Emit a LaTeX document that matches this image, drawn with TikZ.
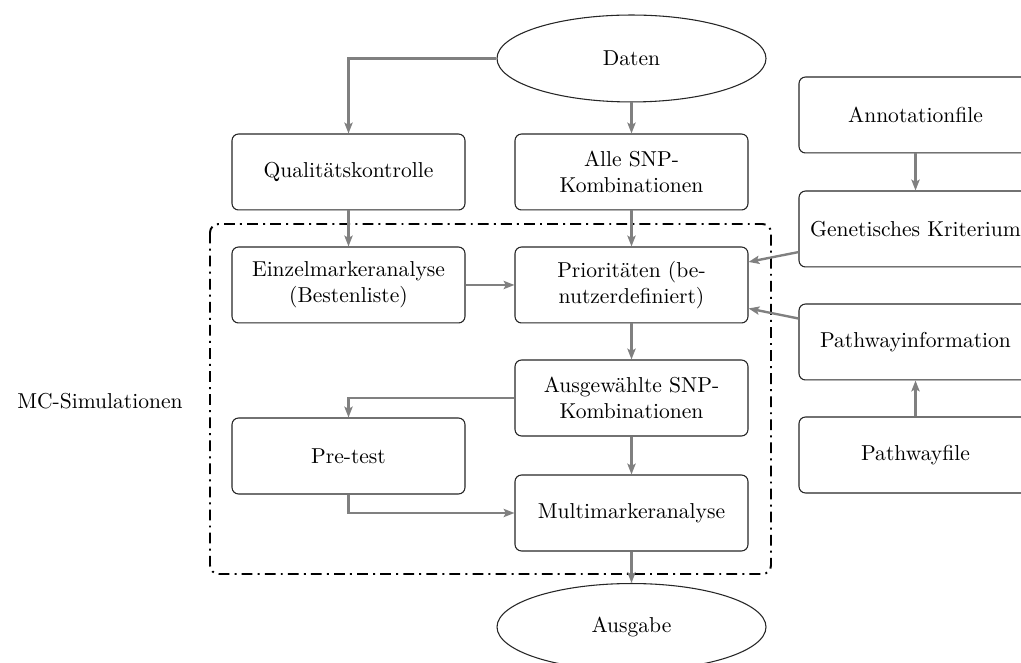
\documentclass[tikz,border=0pt]{standalone}
\usetikzlibrary{arrows.meta,shapes.geometric}
\begin{document}
\begin{tikzpicture}[x=0.4636pt,y=-0.4636pt,
  box/.style={draw=black!85, line width=0.5pt, rounded corners=3pt, minimum width=108pt, minimum height=35.2pt, align=center, inner sep=2pt},
  oval/.style={draw=black!85, line width=0.5pt, ellipse, minimum width=124.7pt, minimum height=40.3pt, inner sep=0pt},
  arr/.style={draw=black!50, line width=1.1pt, -{Stealth[length=5pt,width=3.8pt,inset=1pt]}},
  frame/.style={draw=black, line width=0.9pt, rounded corners=4pt, dash pattern=on 5pt off 2.4pt on 0.9pt off 2.4pt}]
\useasboundingbox (0,0) rectangle (1021,663);
\node[oval] (daten) at (631.5,58.5) {Daten};
\node[box] (qual) at (348.5,172) {Qualitätskontrolle};
\node[box] (alle) at (631.5,172) {Alle SNP-\\Kombinationen};
\node[box] (annot) at (915.5,115) {Annotationfile};
\node[box] (gen) at (915.5,229) {Genetisches Kriterium};
\node[box] (einz) at (348.5,285) {Einzelmarkeranalyse\\(Bestenliste)};
\node[box] (prio) at (631.5,285) {Prioritäten (be-\\nutzerdefiniert)};
\node[box] (pinfo) at (915.5,342) {Pathwayinformation};
\node[box] (ausg) at (631.5,398) {Ausgewählte SNP-\\Kombinationen};
\node[box] (pfile) at (915.5,455) {Pathwayfile};
\node[box] (pre) at (348.5,456) {Pre-test};
\node[box] (multi) at (631.5,513) {Multimarkeranalyse};
\node[oval] (ausgabe) at (631.5,627) {Ausgabe};
\node (mc) at (100,401) {MC-Simulationen};
\draw[frame] (210,224) rectangle (771,574);
\draw[arr] (daten.west) -| (qual.north);
\draw[arr] (daten) -- (alle);
\draw[arr] (qual) -- (einz);
\draw[arr] (alle) -- (prio);
\draw[arr] (einz) -- (prio);
\draw[arr] (annot) -- (gen);
\draw[arr] (gen) -- (prio);
\draw[arr] (pinfo) -- (prio);
\draw[arr] (pfile) -- (pinfo);
\draw[arr] (prio) -- (ausg);
\draw[arr] (ausg.west) -| (pre.north);
\draw[arr] (ausg) -- (multi);
\draw[arr] (pre.south) |- (multi.west);
\draw[arr] (multi) -- (ausgabe);
\end{tikzpicture}
\end{document}
